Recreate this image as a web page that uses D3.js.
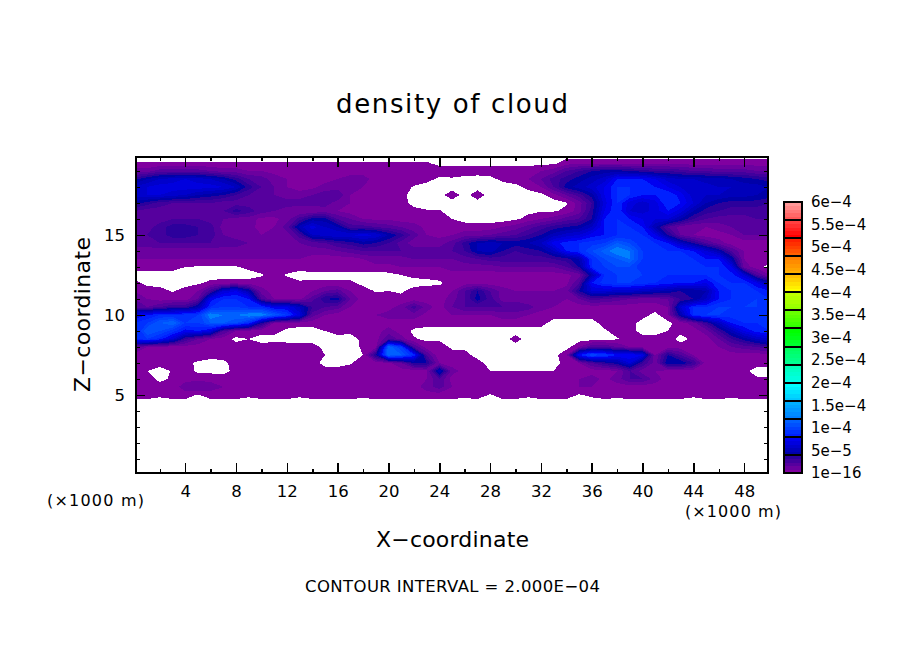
<!DOCTYPE html>
<html>
<head>
<meta charset="utf-8">
<title>density of cloud</title>
<script src="https://cdnjs.cloudflare.com/ajax/libs/d3/7.8.5/d3.min.js"></script>
<style>
  html, body { margin: 0; background: #fff; }
  text { font-family: "DejaVu Sans", sans-serif; fill: #000; }
</style>
</head>
<body>
<svg id="chart" width="904" height="654"></svg>
<script>
// grid of the field, x in km, z in km
const xCoords = d3.range(0, 51);
const zLevels = [20, 19.5, 19, 18.5, 18, 17.5, 17, 16.5, 16, 15.5, 15, 14.5, 14, 13.5, 13, 12.5, 12, 11.5, 11, 10.5, 10, 9.5, 9, 8.5, 8, 7.5, 7, 6.5, 6, 5.5, 5, 4.5];

// cloud density, one row per z level, unit = 8e-6 (one colour band)
// negative = no cloud (white)
const densityRows = [
  [-.5,-.5,-.5,-.5,-.5,-.5,-.5,-.5,-.5,-.5, -.5,-.5,-.5,-.5,-.5,-.5,-.5,-.5,-.5,-.5, -.5,-.5,-.5,-.5,-.5,-.5,-.5,-.5,-.5,-.5, -.5,-.5,-.5,-.5,-.5,-.5,-.5,-.5,-.5,-.5, -.5,-.5,-.5,-.5,-.5,-.5,-.5,-.5,-.5,-.5,-.5],
  [.1,.1,.1,.1,.1,.1,.1,.1,.1,.1, .1,.1,.1,.1,.1,.1,.1,.1,.1,.1, .1,.1,.1,.1,-.3,-.3,-.3,-.3,-.3,-.3, -.3,-.3,-.3,-.3,.5,.5,.5,.5,.5,.5, .5,.5,.5,.5,.5,.5,.5,.5,.5,.5,.5],
  [1.5,1.5,2.5,2.5,2.5,2.5,2,1.5,1.5,1, 1,.7,.5,.5,.5,.5,.5,.5,.5,.5, .5,.5,.5,.5,.5,.5,.5,.5,.5,.5, .5,.5,1,1.5,3,4,5,5.5,5.5,5, 4.5,4,4,3.5,3,3,2.5,2.5,2.5,2,2],
  [4.5,6,7,7.5,8,7.5,7,6,4.5,3, 2.5,1.5,1,.5,.5,.5,1,1.5,1.5,.5, .5,.5,.5,.4,-.2,-.1,-.3,-.4,-.3,.3, .5,1,2,3.5,4.5,5.5,6.5,7.5,10,10, 10,9,7.5,7,7,6.5,6.5,6,5.5,5,4.5],
  [7,8,8.5,8.5,8.5,8.5,8.5,8,7,4.5, 3,2,1,.5,.7,1.5,1.5,1.5,1,.5, .5,.5,-.1,-.5,-.5,-.5,-.5,-.5,-.5,-.5, -.3,.3,1,3,5.5,6.5,7.5,9,11,11, 10.5,10,9,8,7.5,7.5,7,7,6.5,6.5,6],
  [7.5,8,8,7.5,7,6,5.5,5,4,3, 2.5,2,1.5,1.5,2,2.5,3,1,.5,.5, .5,.3,-.4,-.5,-.5,.7,-.5,.7,-.5,-.5, -.5,-.5,-.3,.6,2,3.5,5.5,9,11,11, 10,10,11,9.5,7.5,7,7,6.5,6.5,6,5.5],
  [5.5,4.5,3.5,3,3,3,3,2.5,2.5,2.5, 2.5,2.5,2.5,2.5,2.5,2.5,1.5,1,.5,.5, .5,.4,-.3,-.5,-.5,-.5,-.5,-.5,-.5,-.5, -.5,-.5,-.5,-.5,-.1,1.5,4,8.5,11,8.5, 7.5,8.5,11,10,8,6,5,4.5,4.5,4.5,4],
  [3,2.5,2.5,2.5,2.5,2.5,2.5,3,4.5,3.5, 2.5,2,1.5,1,1,1.5,1,.5,.5,.5, .5,.5,.3,.1,.1,-.5,-.5,-.5,-.5,-.5, -.5,-.3,-.1,-.1,.2,1.5,4.5,9,11,8, 7.5,8.5,10,8.5,6,4.5,4,3.5,3.5,3.5,3.5],
  [2,2,2.5,3,3,3,2.5,2,1.5,1.5, .7,.7,1.5,3.5,5.5,5.5,3,2,1,.8, .8,.5,.5,.5,.5,0,-.4,-.5,-.5,-.5, -.2,.4,1,1.5,2.5,3,5,10,11,10, 9,8,8,6,4,3,2.5,2.5,2.5,3,3],
  [2,2.5,3.5,4.5,4.5,4,3.5,1.5,1.5,1.5, .5,1,2.5,6.5,8.5,7,6,3.5,3.5,3, 2.5,2,1.5,.7,.5,.5,.5,.5,.5,1, 1.5,2.5,3.5,4.5,5,5.5,7,10,11,11, 10,6,3,1.5,1,1,1.5,2,2.5,2.5,2.5],
  [3,3,3.5,4.5,4.5,4,3.5,2,1.5,1, 1,1,1.5,3.5,7,7.5,8,8,8.5,8, 6,4.5,2.5,1,.7,1,1.5,1.5,2,2.5, 3,4,5,6.5,7.5,8,9.5,10,11,11, 11,9,5,2,1,.5,.5,1,2,2,2],
  [2.5,2.5,3,3,3,3,3,2.5,2.5,2, 1.5,1,1.5,2,2.5,3,4,4.5,5.5,5, 4,2.5,1.5,1.5,1.5,2.5,4.5,6,6.5,6, 5.5,6,7,9.5,10.5,11,11.5,12,14,13, 11,11,10,7,5,3,1.5,.5,.5,.5,.5],
  [1.5,1.5,1.5,1.5,1.5,1.5,1.5,1.5,1.5,1.5, 1,1,1,1,1.5,1.5,2,2.5,3,3, 3,3,2.5,2.5,2.5,3,4,6,6.5,5, 4,4.5,5,7,10,11,13,14.5,16,15, 12,11,11,11,10,8,6,3,1,.5,.5],
  [1,1,1,1,1,1,1,1,1,1, 1,1,1,1,.5,.5,.5,.5,1,1.5, 1.5,1.5,2,2,2,2,2.5,3,3.5,3.5, 3.5,3.5,3.5,4,4.5,6,11,13,14,15, 12,11,11,11,11,10,10,6,1,.5,.5],
  [.5,.5,.5,.5,0,-.1,-.1,-.1,-.1,.3, .5,.5,.5,.5,.5,.5,.5,.5,.7,.7, .7,1,1,1,1,1.5,1.5,1.5,1.5,2, 2,2,2,2,3,5,11,12,13,13, 11,11,11,11,11,11,11,9,1.5,.5,-.5],
  [-.5,-.5,-.5,-.5,-.5,-.5,-.5,-.5,-.5,-.5, -.1,.4,-.1,-.5,-.3,-.3,-.3,-.3,-.5,-.5, -.3,0,.2,.2,.5,.5,.5,.5,.5,.5, .5,.5,.5,.5,.7,1.5,6,11,12,12, 12,11,11,11,11,11,11,10.5,8,3,1],
  [.3,-.3,-.5,-.5,-.5,-.2,.3,.5,.5,.5, .5,.5,.5,.2,.2,.2,.2,.2,-.3,-.5, -.5,-.5,-.3,-.2,-.2,.5,.5,.5,.5,.5, .5,.5,.5,.5,.7,3,10,11.5,12,12, 11.5,11,10.5,10,10,9,11,11,11,9,6],
  [1,.5,.5,-.1,.5,1,3.5,8,9,6, 1.5,.5,.5,.5,1,2,2.5,1,.5,-.1, 0,-.1,.3,.4,.5,1,3,5,3,1.5, 1,1,1,1,1.5,5,8,8,7.5,7.5, 7,6.5,6,5,5,6,10,11,11,11,10],
  [2,1,.5,.5,.5,2,9.5,11,11,10, 3,1,.7,.7,2.5,5,5.5,2,.5,.5, .3,.2,.5,.5,.5,1.5,3,5.5,3.5,1.5, 1.5,1,1,1,1,2,3.5,3,2.5,2, 1.5,1.5,2,4,5,7,10,11,11,12,11],
  [2,2,3,4,4,6,11,12,12,11, 11,9,9,7,4,3,2.5,1,.5,.5, .5,1.5,3.5,1.5,.5,2,3,3,3,3, 3,2.5,1.5,1,.5,.5,.5,.5,.5,.5, .5,.5,1,8,11,11,12,12,12,12,11],
  [9,10,11,11,11.5,12,16,15,15,16, 16,14,12,8.5,2.5,1,.5,.5,.5,1, 1.5,1.5,1.5,.7,.5,1,1,1,1,1.5, 1.5,1,.5,.5,.5,.5,.5,.5,.5,.5, .5,-.4,1,6,11,12,12,11.5,11,11,11],
  [11,12,14,15,12,12,14,14,13,11, 5,1,.5,.5,.5,.5,.5,.5,.5,.5, .5,.5,.5,.5,.5,.5,.5,.5,.5,.5, .5,.5,.5,-.5,-.5,-.5,-.5,.5,.5,.5, -.5,-.4,-.3,.5,1.5,4,7,10,11,11,11],
  [10,14,13,11.5,9.5,10,8.5,3,1,.5, .4,.3,-.2,-.5,-.5,0,.5,.3,.5,.5, 1.5,.5,-.2,-.5,-.5,-.5,-.5,-.5,-.5,-.5, -.5,-.5,-.5,-.5,-.5,-.5,-.5,-.2,.5,.5, -.5,-.5,0,.3,.5,1.5,4,6.5,9,10.5,11],
  [11,12,10.5,8,4,2,1,.5,-.3,0, -.5,-.3,-.4,-.5,-.5,-.3,-.5,-.5,.3,.5, 3,1.5,.1,-.2,-.1,-.3,-.5,-.5,-.5,-.5, .5,-.5,-.5,-.5,-.5,-.5,-.5,-.5,-.1,.3, .5,.5,.5,-.4,.3,.5,2,4,5.5,7,8],
  [2.5,1,.5,.5,.5,.5,.5,.5,.5,.5, .5,.5,.5,.5,.5,-.3,-.5,-.5,.2,.5, 15,12,3,.5,.3,-.1,-.3,-.5,-.5,-.5, -.5,-.5,-.5,-.5,-.5,1,3,3,2,1, .5,.5,.5,.5,.5,.5,1,2,2.5,3,4],
  [.5,.5,.5,.5,.5,1,.5,.5,.5,.5, .5,.5,.5,.5,.5,0,-.5,-.5,0,5, 15,14,11,3,.1,.2,.5,-.5,-.5,-.5, -.5,-.5,-.5,-.5,1,10,13,12,10,10, 9,1,5,3,1,.5,.5,.5,.5,.5,.5],
  [.5,.5,.5,.5,.5,-.3,-.5,-.3,.5,.5, .5,.5,.5,.5,.5,-.4,-.5,-.1,.5,.5, .7,2,5,5,1,.5,.5,.5,-.5,-.5, -.5,-.5,-.5,-.5,.5,1,3,4.5,5.5,8, 4,1.5,6,6,4,.5,.5,.5,.5,.5,.5],
  [.5,0,-.5,.1,.5,-.2,-.3,-.4,.4,.5, .5,.5,.5,.5,.5,.5,.5,.5,.5,.5, .5,.5,.5,.7,7,1.5,.5,.5,0,0, 0,0,0,0,.5,.5,.5,.5,1,3, 1.5,1,.5,.5,.5,.5,.5,.5,.3,-.5,-.5],
  [.5,.5,-.3,.2,.7,.7,.7,.5,.5,.5, .5,.5,.5,.5,.5,.5,.5,.5,.5,.5, .5,.5,.5,1,3,.5,.5,.5,.5,.5, .5,.5,.5,.5,.5,1,1.5,.7,1.5,3, 3,1.5,.5,.5,.5,.5,.5,.5,.5,.2,.2],
  [.5,.5,.5,.5,1.5,2,1.5,1,.5,.5, .5,.5,.5,.5,1,1,.5,.5,.5,.5, .5,.5,.5,1.5,2.5,1,.5,.5,.5,.5, .5,.5,.5,.5,.5,1,1,.5,.5,.5, .5,.5,.5,.5,.5,.5,.5,.5,.5,.5,.5],
  [.5,.5,.2,.5,.5,-.1,.5,.5,.5,.2, .5,.5,.5,.2,.5,.5,.5,.5,.3,.5, .5,.5,.5,.5,.5,.5,.3,.5,-.1,.5, .5,.2,.5,.5,.5,-.1,.2,.5,.3,.5, .5,.5,.5,.5,.2,.5,.5,.3,.5,.5,.5],
  [-.5,-.5,-.5,-.5,-.5,-.5,-.5,-.5,-.5,-.5, -.5,-.5,-.5,-.5,-.5,-.5,-.5,-.5,-.5,-.5, -.5,-.5,-.5,-.5,-.5,-.5,-.5,-.5,-.5,-.5, -.5,-.5,-.5,-.5,-.5,-.5,-.5,-.5,-.5,-.5, -.5,-.5,-.5,-.5,-.5,-.5,-.5,-.5,-.5,-.5,-.5]
];

// colour of each band, stops from the colour bar
const bandStops = [0, 4, 5, 9, 10, 14, 15, 19, 20, 24, 25, 29, 30, 34, 35, 39, 40, 44, 45, 49, 50, 54, 55, 59, 60, 64, 65, 69, 70, 74];
const bandColors = ["#8000a0", "#2c009c", "#0000a8", "#0000f0", "#0020ff", "#0060ff", "#0080ff", "#00b0ff", "#00c8ff", "#00ffff",
  "#00ffe8", "#00ffb8", "#00ff90", "#00ff60", "#00ff30", "#00ff00", "#30ff00", "#68ff00", "#90ff00", "#c0ff00",
  "#ffff00", "#ffc000", "#ffb000", "#ff8000", "#ff6000", "#ff2000", "#ff0000", "#ff4040", "#ff5858", "#ff9898"];

const xMajor = [4, 8, 12, 16, 20, 24, 28, 32, 36, 40, 44, 48];
const xMinor = [2, 6, 10, 14, 18, 22, 26, 30, 34, 38, 42, 46];
const zMajor = [5, 10, 15];
const zMinor = [1, 2, 3, 4, 6, 7, 8, 9, 11, 12, 13, 14, 16, 17, 18, 19];

const legendValues = [1e-16, 5e-5, 1e-4, 1.5e-4, 2e-4, 2.5e-4, 3e-4, 3.5e-4, 4e-4, 4.5e-4, 5e-4, 5.5e-4, 6e-4];
const legendLabels = ["1e\u221216", "5e\u22125", "1e\u22124", "1.5e\u22124", "2e\u22124", "2.5e\u22124", "3e\u22124", "3.5e\u22124", "4e\u22124", "4.5e\u22124", "5e\u22124", "5.5e\u22124", "6e\u22124"];

const svg = d3.select("#chart");

const x = d3.scaleLinear().domain([0.125, 49.875]).range([136, 768]);
const y = d3.scaleLinear().domain([0.125, 19.875]).range([473, 157]);
const bandColor = d3.scaleLinear().domain(bandStops).range(bandColors);

svg.append("clipPath").attr("id", "plotClip")
  .append("rect").attr("x", x(0.125)).attr("y", y(19.875))
  .attr("width", x(49.875) - x(0.125)).attr("height", y(0.125) - y(19.875));

// contour bands, painted from low to high
const bandLevels = d3.range(0, 75);
const contours = d3.contours()
  .size([xCoords.length, zLevels.length])
  .thresholds(bandLevels)(d3.merge(densityRows));

const project = d3.geoTransform({
  point: function(cx, cy) {
    // a grid sample sits at index + 0.5 in contour space
    const zPos = zLevels[0] + (cy - 0.5) * (zLevels[1] - zLevels[0]);
    this.stream.point(x(cx - 0.5), y(zPos));
  }
});
const path = d3.geoPath(project);

svg.append("g").attr("clip-path", "url(#plotClip)")
  .selectAll("path")
  .data(contours.filter(d => d.coordinates.length))
  .enter()
  .append("path")
  .attr("d", path)
  .attr("fill", d => bandColor(d.value))
  .attr("shape-rendering", "crispEdges");

// ticks on all four sides
function styleAxis(g) {
  g.select(".domain").remove();
  g.selectAll("line").attr("stroke", "#000").attr("stroke-width", 1.5).attr("shape-rendering", "crispEdges");
  g.selectAll("text").attr("font-size", 16.5).attr("fill", "#000");
}

const noLabel = () => "";

svg.append("g").attr("transform", "translate(0," + y(0.125) + ")")
  .call(d3.axisBottom(x).tickValues(xMajor).tickSize(-10).tickPadding(12).tickFormat(d3.format("d")))
  .call(styleAxis);
svg.append("g").attr("transform", "translate(0," + y(0.125) + ")")
  .call(d3.axisBottom(x).tickValues(xMinor).tickSize(-4).tickFormat(noLabel))
  .call(styleAxis);
svg.append("g").attr("transform", "translate(0," + y(19.875) + ")")
  .call(d3.axisTop(x).tickValues(xMajor).tickSize(-10).tickFormat(noLabel))
  .call(styleAxis);
svg.append("g").attr("transform", "translate(0," + y(19.875) + ")")
  .call(d3.axisTop(x).tickValues(xMinor).tickSize(-4).tickFormat(noLabel))
  .call(styleAxis);

svg.append("g").attr("transform", "translate(" + x(0.125) + ",0)")
  .call(d3.axisLeft(y).tickValues(zMajor).tickSize(-9).tickPadding(11).tickFormat(d3.format("d")))
  .call(styleAxis);
svg.append("g").attr("transform", "translate(" + x(0.125) + ",0)")
  .call(d3.axisLeft(y).tickValues(zMinor).tickSize(-4).tickFormat(noLabel))
  .call(styleAxis);
svg.append("g").attr("transform", "translate(" + x(49.875) + ",0)")
  .call(d3.axisRight(y).tickValues(zMajor).tickSize(-9).tickFormat(noLabel))
  .call(styleAxis);
svg.append("g").attr("transform", "translate(" + x(49.875) + ",0)")
  .call(d3.axisRight(y).tickValues(zMinor).tickSize(-4).tickFormat(noLabel))
  .call(styleAxis);

svg.append("rect")
  .attr("x", x(0.125)).attr("y", y(19.875))
  .attr("width", x(49.875) - x(0.125)).attr("height", y(0.125) - y(19.875))
  .attr("fill", "none").attr("stroke", "#000").attr("stroke-width", 2)
  .attr("shape-rendering", "crispEdges");

// colour bar: 15 boxes of 5 bands each
const legendY = d3.scaleLinear().domain([0, 6e-4]).range([473, 202]);
const legendG = svg.append("g");

legendG.selectAll("rect")
  .data(bandLevels)
  .enter()
  .append("rect")
  .attr("x", 784)
  .attr("width", 18)
  .attr("y", d => legendY((d + 1) * 8e-6))
  .attr("height", d => legendY(d * 8e-6) - legendY((d + 1) * 8e-6) + 0.5)
  .attr("fill", d => bandColor(d))
  .attr("shape-rendering", "crispEdges");

legendG.selectAll("line")
  .data(bandLevels.filter(d => d % 5 === 0))
  .enter()
  .append("line")
  .attr("x1", 784).attr("x2", 802)
  .attr("y1", d => legendY(d * 8e-6)).attr("y2", d => legendY(d * 8e-6))
  .attr("stroke", "#000").attr("stroke-width", 2)
  .attr("shape-rendering", "crispEdges");

legendG.append("rect")
  .attr("x", 784).attr("y", legendY(6e-4))
  .attr("width", 18).attr("height", legendY(0) - legendY(6e-4))
  .attr("fill", "none").attr("stroke", "#000").attr("stroke-width", 2)
  .attr("shape-rendering", "crispEdges");

svg.append("g").attr("transform", "translate(802,0)")
  .call(d3.axisRight(legendY).tickValues(legendValues).tickSize(0).tickPadding(9)
    .tickFormat((d, i) => legendLabels[i]))
  .call(g => g.select(".domain").remove())
  .call(g => g.selectAll("text").attr("font-size", 15).attr("fill", "#000"));

// titles and notes, width
function label(str, px, py, size, width, anchor) {
  return svg.append("text").attr("x", px).attr("y", py)
    .attr("font-size", size)
    .attr("text-anchor", anchor || "start")
    .attr("textLength", width)
    .attr("lengthAdjust", "spacing")
    .text(str);
}

label("density of cloud", 336, 113, 26, 232);
label("X\u2212coordinate", 376, 547, 22, 153);
label("CONTOUR INTERVAL = 2.000E\u221204", 305, 592, 16.5, 295);
label("(\u00d71000 m)", 47, 506, 16, 97);
label("(\u00d71000 m)", 685, 517, 16, 96);

svg.append("text")
  .attr("transform", "translate(90,392) rotate(-90)")
  .attr("font-size", 22)
  .attr("textLength", 155)
  .attr("lengthAdjust", "spacing")
  .text("Z\u2212coordinate");
</script>
</body>
</html>
